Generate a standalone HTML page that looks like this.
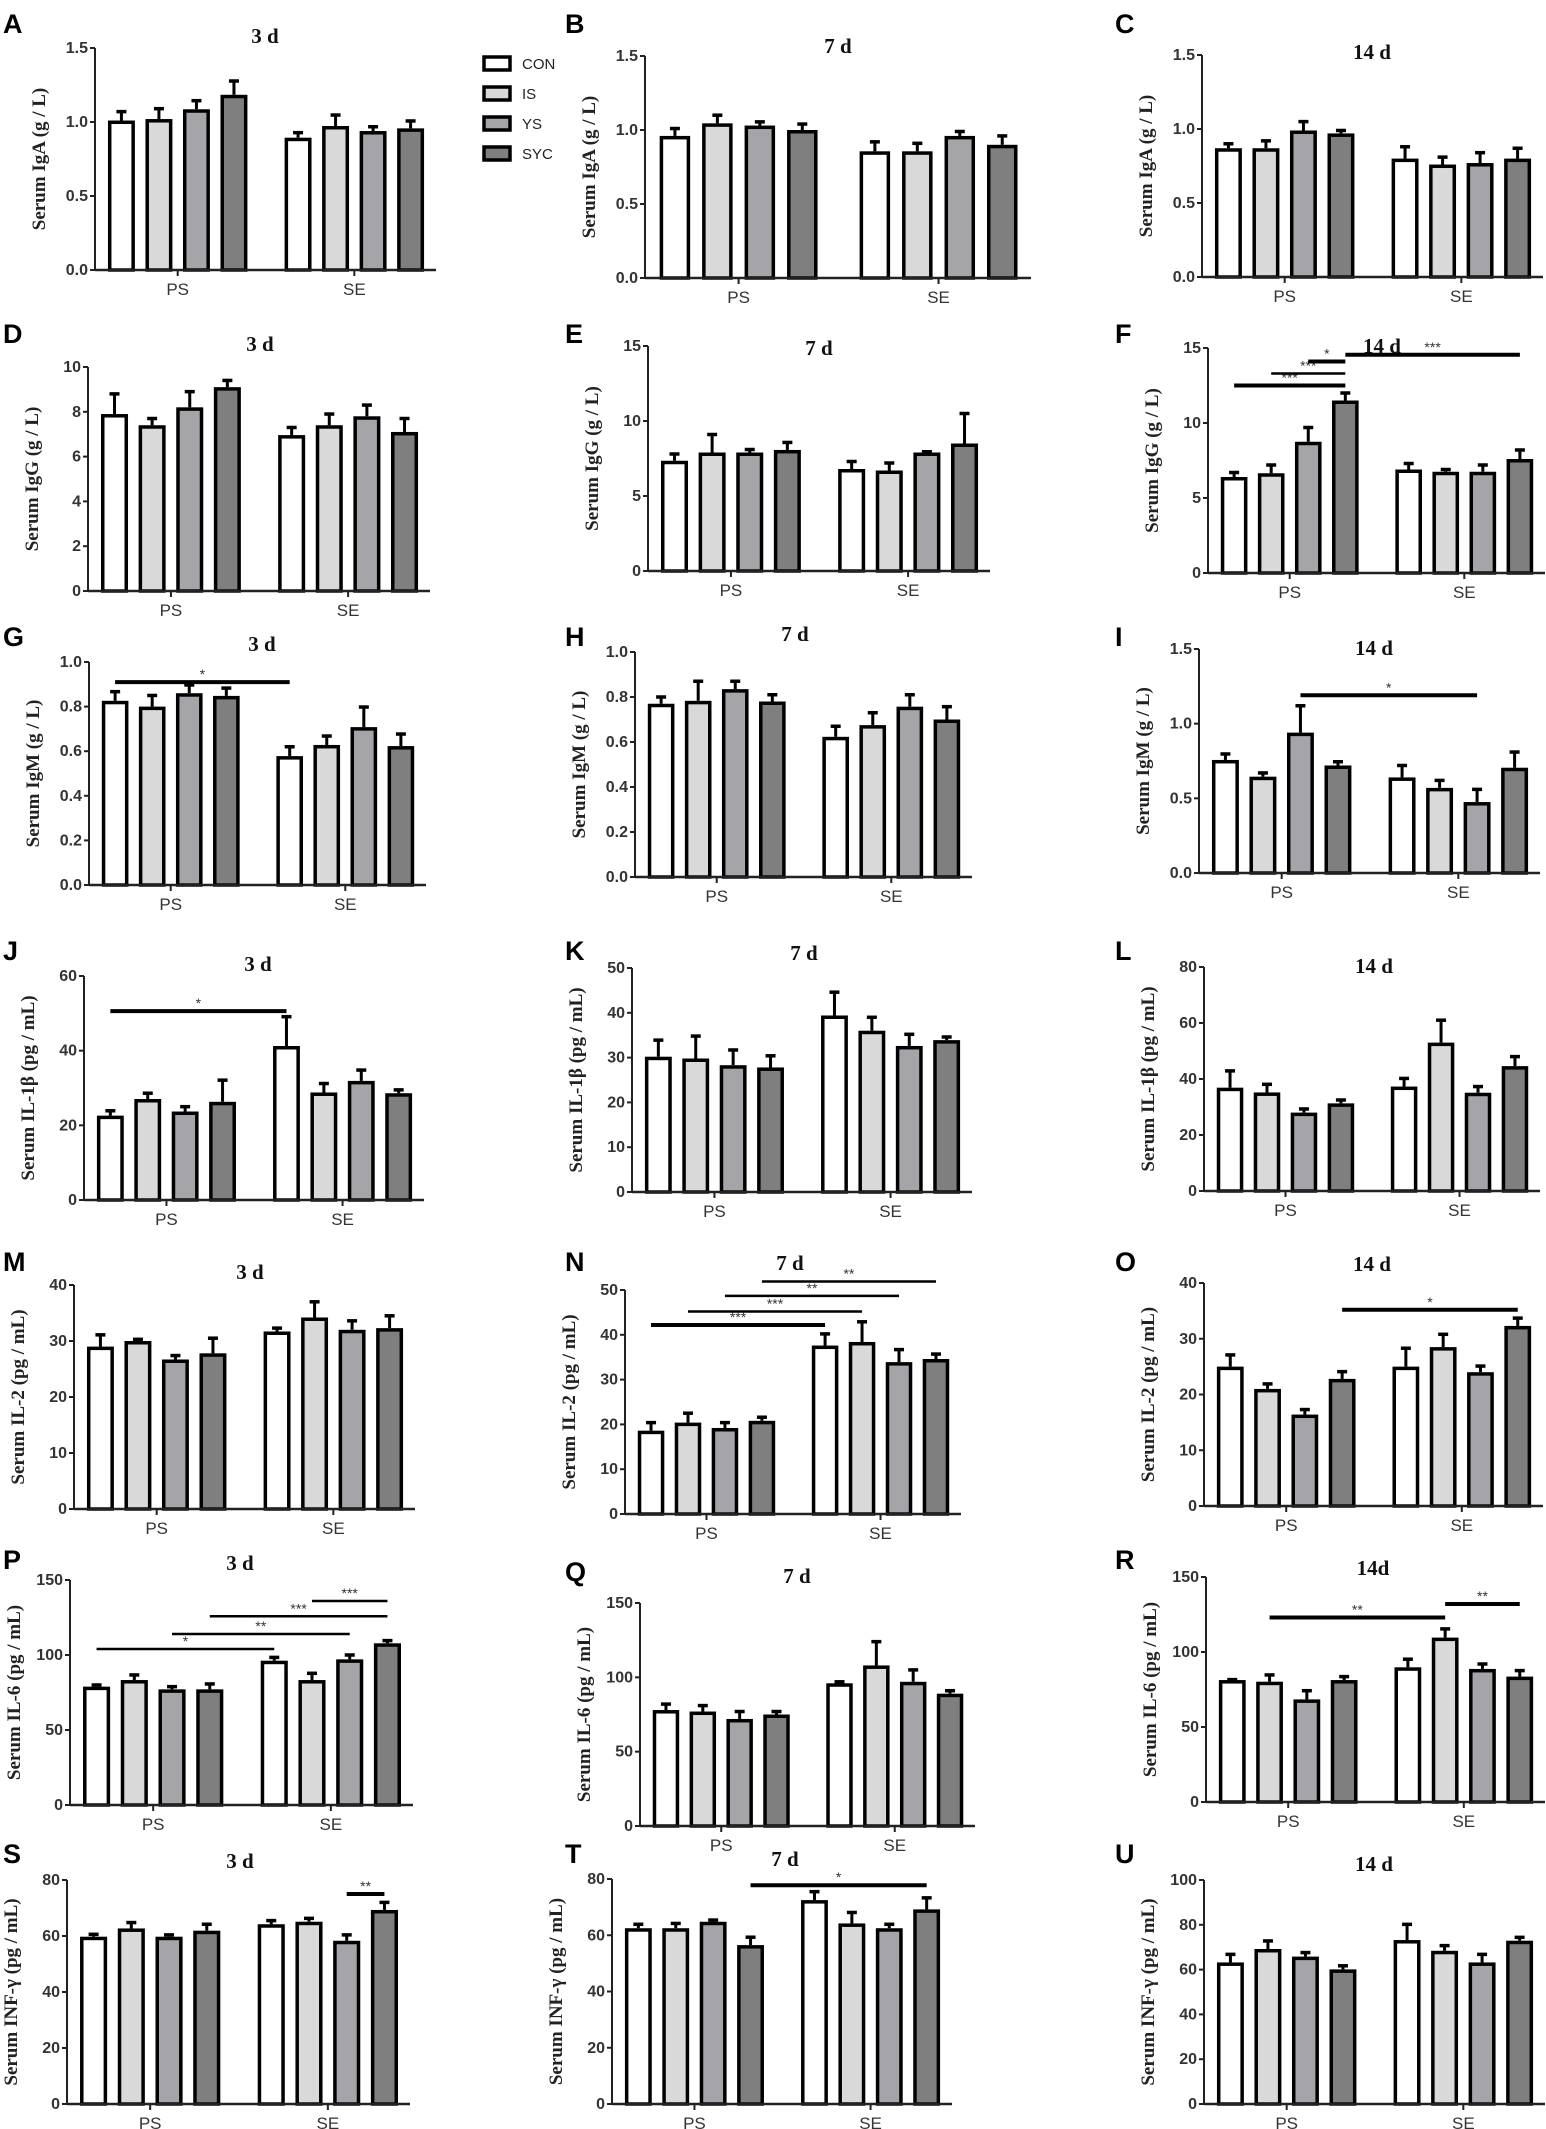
<!DOCTYPE html>
<html><head><meta charset="utf-8">
<style>
html,body{margin:0;padding:0;background:#fff;}
svg{display:block;}
</style></head>
<body>
<svg id="fig" width="1546" height="2129" viewBox="0 0 1546 2129" xmlns="http://www.w3.org/2000/svg"></svg>
<script>
const groups = ['PS','SE'];
const seriesNames = ['CON','IS','YS','SYC'];
const seriesFills = ['#ffffff','#d9d9d9','#a5a5a9','#7f7f7f'];

// values: PS CON, IS, YS, SYC, SE CON, IS, YS, SYC
const A_mean=[1.01,1.02,1.086,1.184,0.894,0.973,0.939,0.957];
const A_err =[0.06,0.07,0.058,0.093,0.034,0.074,0.029,0.05];
const B_mean=[0.96,1.045,1.03,1.0,0.856,0.856,0.96,0.90];
const B_err =[0.05,0.055,0.025,0.04,0.064,0.054,0.03,0.06];
const C_mean=[0.87,0.87,0.99,0.97,0.80,0.76,0.77,0.80];
const C_err =[0.03,0.05,0.06,0.02,0.08,0.05,0.07,0.07];
const D_mean=[7.9,7.4,8.2,9.1,6.96,7.4,7.8,7.1];
const D_err =[0.9,0.3,0.7,0.3,0.34,0.5,0.5,0.6];
const E_mean=[7.35,7.9,7.9,8.07,6.8,6.7,7.9,8.5];
const E_err =[0.45,1.2,0.2,0.5,0.5,0.5,0.05,2.0];
const F_mean=[6.4,6.65,8.75,11.5,6.9,6.75,6.75,7.6];
const F_err =[0.3,0.55,0.95,0.5,0.4,0.15,0.45,0.6];
const G_mean=[0.826,0.80,0.86,0.848,0.578,0.628,0.708,0.623];
const G_err =[0.041,0.05,0.037,0.035,0.042,0.04,0.09,0.054];
const H_mean=[0.77,0.783,0.835,0.78,0.623,0.675,0.757,0.70];
const H_err =[0.03,0.087,0.035,0.03,0.047,0.055,0.053,0.057];
const I_mean=[0.757,0.645,0.94,0.72,0.64,0.57,0.475,0.705];
const I_err =[0.04,0.025,0.18,0.025,0.08,0.05,0.085,0.105];
const J_mean=[22.6,27.05,23.7,26.3,41.25,28.8,31.9,28.6];
const J_err =[1.3,1.55,1.3,5.8,7.85,2.4,2.9,0.9];
const K_mean=[30.2,29.8,28.3,27.8,39.4,36,32.6,33.9];
const K_err =[3.7,5.0,3.4,2.6,5.2,3.0,2.6,0.7];
const L_mean=[36.9,35.2,28,31.3,37.3,53,35.1,44.6];
const L_err =[6.0,2.9,1.3,1.2,2.9,8.0,2.2,3.4];
const M_mean=[29.0,30.0,26.7,27.8,31.7,34.2,32,32.3];
const M_err =[2.1,0.3,0.7,2.7,0.6,2.8,1.6,2.2];
const N_mean=[18.6,20.4,19.2,20.8,37.6,38.4,33.9,34.6];
const N_err =[1.8,2.1,1.2,0.8,2.6,4.5,2.8,1.1];
const O_mean=[25.0,21.0,16.4,22.8,25.0,28.5,24.0,32.3];
const O_err =[2.1,0.9,0.9,1.3,3.3,2.3,1.1,1.4];
const P_mean=[78.9,83.3,77.1,77.1,96.2,83.3,97.1,107.8];
const P_err =[1.1,3.4,1.8,3.6,2.2,4.5,2.9,1.8];
const Q_mean=[78,77,72,75,96,108,97,89];
const Q_err =[4,4,5,2,1,16,8,2];
const R_mean=[81.3,80.2,68.4,81.3,89.8,109.6,88.7,83.6];
const R_err =[0.3,4.5,5.8,2.3,5.4,5.8,3.3,4.0];
const S_mean=[59.75,62.7,59.75,61.9,64.2,65.1,58.3,69.3];
const S_err =[0.85,2.1,0.65,2.3,1.3,1.2,2.1,2.7];
const T_mean=[62.5,62.5,64.8,56.5,72.5,64.2,62.5,69.2];
const T_err =[1.4,1.7,0.6,2.8,3.0,3.9,1.4,4.1];
const U_mean=[63.2,69.2,65.8,60.1,73.2,68.4,63.2,72.9];
const U_err =[3.6,3.6,1.8,1.6,7.0,2.3,3.6,1.5];

// y-axis tick values
const ticks_igA=[0,0.5,1.0,1.5];
const ticks_igG3=[0,2,4,6,8,10];
const ticks_igG15=[0,5,10,15];
const ticks_igM1=[0,0.2,0.4,0.6,0.8,1.0];
const ticks_igM15=[0,0.5,1.0,1.5];
const ticks_60=[0,20,40,60];
const ticks_50=[0,10,20,30,40,50];
const ticks_80by20=[0,20,40,60,80];
const ticks_40=[0,10,20,30,40];
const ticks_150=[0,50,100,150];
const ticks_100=[0,20,40,60,80,100];

// significance brackets: [fromBar, toBar, value, label, thick]
const F_sig=[[0,3,12.5,'***',1],[1,3,13.3,'***',0],[2,3,14.1,'*',1],[3,7,14.55,'***',1]];
const G_sig=[[0,4,0.91,'*',1]];
const I_sig=[[2,6,1.19,'*',1]];
const J_sig=[[0,4,50.6,'*',1]];
const N_sig=[[0,4,42.2,'***',1],[1,5,45.2,'***',0],[2,6,48.7,'**',0],[3,7,51.9,'**',0]];
const O_sig=[[3,7,35.2,'*',1]];
const P_sig=[[0,4,104,'*',0],[2,6,114,'**',0],[3,7,125.8,'***',0],[5,7,136,'***',0]];
const R_sig=[[1,5,123,'**',1],[5,7,132,'**',1]];
const S_sig=[[6,7,75,'**',1]];
const T_sig=[[3,7,77.8,'*',1]];

const panels=[
 {id:'A',lx:3,ly:24,x0:95,x1:436,y0:270,yTop:48,max:1.5,ticks:ticks_igA,dec:1,title:'3 d',tx:265,ty:36,ylab:'Serum IgA (g / L)',mean:A_mean,err:A_err,sig:[]},
 {id:'B',lx:565,ly:24,x0:645,x1:1031,y0:278,yTop:56,max:1.5,ticks:ticks_igA,dec:1,title:'7 d',tx:838,ty:46,ylab:'Serum IgA (g / L)',mean:B_mean,err:B_err,sig:[]},
 {id:'C',lx:1115,ly:24,x0:1202,x1:1543,y0:277,yTop:55,max:1.5,ticks:ticks_igA,dec:1,title:'14 d',tx:1372,ty:52,ylab:'Serum IgA (g / L)',mean:C_mean,err:C_err,sig:[]},
 {id:'D',lx:3,ly:334,x0:88,x1:430,y0:591,yTop:367,max:10,ticks:ticks_igG3,dec:0,title:'3 d',tx:260,ty:344,ylab:'Serum IgG (g / L)',mean:D_mean,err:D_err,sig:[]},
 {id:'E',lx:565,ly:334,x0:648,x1:990,y0:571,yTop:346,max:15,ticks:ticks_igG15,dec:0,title:'7 d',tx:819,ty:348,ylab:'Serum IgG (g / L)',mean:E_mean,err:E_err,sig:[]},
 {id:'F',lx:1115,ly:334,x0:1208,x1:1545,y0:573,yTop:348,max:15,ticks:ticks_igG15,dec:0,title:'14 d',tx:1382,ty:346,ylab:'Serum IgG (g / L)',mean:F_mean,err:F_err,sig:F_sig},
 {id:'G',lx:3,ly:637,x0:89,x1:426,y0:885,yTop:662,max:1.0,ticks:ticks_igM1,dec:1,title:'3 d',tx:262,ty:644,ylab:'Serum IgM (g / L)',mean:G_mean,err:G_err,sig:G_sig},
 {id:'H',lx:565,ly:637,x0:635,x1:972,y0:877,yTop:652,max:1.0,ticks:ticks_igM1,dec:1,title:'7 d',tx:795,ty:634,ylab:'Serum IgM (g / L)',mean:H_mean,err:H_err,sig:[]},
 {id:'I',lx:1115,ly:637,x0:1199,x1:1540,y0:873,yTop:649,max:1.5,ticks:ticks_igM15,dec:1,title:'14 d',tx:1374,ty:648,ylab:'Serum IgM (g / L)',mean:I_mean,err:I_err,sig:I_sig},
 {id:'J',lx:3,ly:951,x0:84,x1:424,y0:1200,yTop:976,max:60,ticks:ticks_60,dec:0,title:'3 d',tx:258,ty:964,ylab:'Serum IL-1β (pg / mL)',mean:J_mean,err:J_err,sig:J_sig},
 {id:'K',lx:565,ly:951,x0:632,x1:972,y0:1192,yTop:968,max:50,ticks:ticks_50,dec:0,title:'7 d',tx:804,ty:953,ylab:'Serum IL-1β (pg / mL)',mean:K_mean,err:K_err,sig:[]},
 {id:'L',lx:1115,ly:951,x0:1204,x1:1540,y0:1191,yTop:967,max:80,ticks:ticks_80by20,dec:0,title:'14 d',tx:1374,ty:966,ylab:'Serum IL-1β (pg / mL)',mean:L_mean,err:L_err,sig:[]},
 {id:'M',lx:3,ly:1262,x0:74,x1:415,y0:1509,yTop:1285,max:40,ticks:ticks_40,dec:0,title:'3 d',tx:250,ty:1272,ylab:'Serum IL-2 (pg / mL)',mean:M_mean,err:M_err,sig:[]},
 {id:'N',lx:565,ly:1262,x0:625,x1:961,y0:1514,yTop:1290,max:50,ticks:ticks_50,dec:0,title:'7 d',tx:790,ty:1263,ylab:'Serum IL-2 (pg / mL)',mean:N_mean,err:N_err,sig:N_sig},
 {id:'O',lx:1115,ly:1262,x0:1204,x1:1543,y0:1506,yTop:1283,max:40,ticks:ticks_40,dec:0,title:'14 d',tx:1372,ty:1264,ylab:'Serum IL-2 (pg / mL)',mean:O_mean,err:O_err,sig:O_sig},
 {id:'P',lx:3,ly:1560,x0:70,x1:413,y0:1805,yTop:1580,max:150,ticks:ticks_150,dec:0,title:'3 d',tx:240,ty:1563,ylab:'Serum IL-6 (pg / mL)',mean:P_mean,err:P_err,sig:P_sig},
 {id:'Q',lx:565,ly:1572,x0:640,x1:975,y0:1826,yTop:1603,max:150,ticks:ticks_150,dec:0,title:'7 d',tx:797,ty:1576,ylab:'Serum IL-6 (pg / mL)',mean:Q_mean,err:Q_err,sig:[]},
 {id:'R',lx:1115,ly:1560,x0:1206,x1:1545,y0:1802,yTop:1577,max:150,ticks:ticks_150,dec:0,title:'14d',tx:1373,ty:1568,ylab:'Serum IL-6 (pg / mL)',mean:R_mean,err:R_err,sig:R_sig},
 {id:'S',lx:3,ly:1854,x0:67,x1:410,y0:2104,yTop:1880,max:80,ticks:ticks_80by20,dec:0,title:'3 d',tx:240,ty:1861,ylab:'Serum INF-γ (pg / mL)',mean:S_mean,err:S_err,sig:S_sig},
 {id:'T',lx:565,ly:1854,x0:612,x1:952,y0:2104,yTop:1879,max:80,ticks:ticks_80by20,dec:0,title:'7 d',tx:785,ty:1859,ylab:'Serum INF-γ (pg / mL)',mean:T_mean,err:T_err,sig:T_sig},
 {id:'U',lx:1115,ly:1854,x0:1204,x1:1545,y0:2104,yTop:1880,max:100,ticks:ticks_100,dec:0,title:'14 d',tx:1374,ty:1864,ylab:'Serum INF-γ (pg / mL)',mean:U_mean,err:U_err,sig:[]}
];

const NS='http://www.w3.org/2000/svg';
const svg=document.getElementById('fig');
function mk(tag,attrs,parent){
  const e=document.createElementNS(NS,tag);
  for(const k in attrs) e.setAttribute(k,attrs[k]);
  (parent||svg).appendChild(e);
  return e;
}

// legend
const leg=mk('g',{});


seriesNames.forEach((s,i)=>{
  const y=57+i*30;
  const sw=mk('rect',{x:484,y:y,width:26,height:13,fill:seriesFills[i],stroke:'#000','stroke-width':3.5},leg);
  
  
  const t=mk('text',{x:522,y:y+12,'font-family':'Liberation Sans, sans-serif','font-size':15,fill:'#222'},leg);
  t.textContent=s;
  
  
});

panels.forEach(p=>{
  const g=mk('g',{});
  
  
  const W=p.x1-p.x0;
  const yS=v=>p.y0-v/p.max*(p.y0-p.yTop);
  const starts=[0.038,0.556], pitch=0.11, bw=0.079;
  const barX=i=>p.x0+W*(starts[i<4?0:1]+(i%4)*pitch);
  const barC=i=>barX(i)+W*bw/2;

  const L=mk('text',{x:p.lx,y:p.ly+9,'font-family':'Liberation Sans, sans-serif','font-weight':'bold','font-size':27,fill:'#000'},g);
  L.textContent=p.id;
  
  

  const T=mk('text',{x:p.tx,y:p.ty+7,'text-anchor':'middle','font-family':'Liberation Serif, serif','font-weight':'bold','font-size':21,fill:'#111'},g);
  T.textContent=p.title;
  
  

  const yc=(p.y0+p.yTop)/2, yx=p.x0-50;
  const YL=mk('text',{x:yx,y:yc,transform:`rotate(-90 ${yx} ${yc})`,'text-anchor':'middle','font-family':'Liberation Serif, serif','font-weight':'bold','font-size':19,fill:'#222'},g);
  YL.textContent=p.ylab;
  
  

  // bars
  p.mean.forEach((v,i)=>{
    const x=barX(i), w=W*bw, top=yS(v), eTop=yS(v+p.err[i]);
    const cx=x+w/2;
    const el=mk('line',{x1:cx,x2:cx,y1:top,y2:eTop,stroke:'#000','stroke-width':3},g);
    
    
    const cap=mk('line',{x1:cx-5,x2:cx+5,y1:eTop,y2:eTop,stroke:'#000','stroke-width':3.5},g);
    
    
    const r=mk('rect',{x:x+1.75,y:top+1.75,width:w-3.5,height:Math.max(0,p.y0-top-1.75),fill:seriesFills[i%4],stroke:'#000','stroke-width':3.5},g);
    
    
  });

  // axes
  const ya=mk('line',{x1:p.x0,x2:p.x0,y1:p.yTop,y2:p.y0,stroke:'#222','stroke-width':2},g);
  
  
  const xa=mk('line',{x1:p.x0,x2:p.x1,y1:p.y0,y2:p.y0,stroke:'#222','stroke-width':2.5},g);
  
  

  p.ticks.forEach(t=>{
    const y=yS(t);
    const tk=mk('line',{x1:p.x0-5,x2:p.x0,y1:y,y2:y,stroke:'#222','stroke-width':2},g);
    
    
    const tl=mk('text',{x:p.x0-7,y:y+5,'text-anchor':'end','font-family':'Liberation Sans, sans-serif','font-weight':'bold','font-size':16,fill:'#333'},g);
    tl.textContent=t.toFixed(p.dec);
    
    
  });

  groups.forEach((gn,gi)=>{
    const cx=p.x0+W*(starts[gi]+(3*pitch+bw)/2);
    const tk=mk('line',{x1:cx,x2:cx,y1:p.y0,y2:p.y0+6,stroke:'#222','stroke-width':2},g);
    
    
    const tl=mk('text',{x:cx,y:p.y0+25,'text-anchor':'middle','font-family':'Liberation Sans, sans-serif','font-size':17,fill:'#333'},g);
    tl.textContent=gn;
    
    
  });

  p.sig.forEach(s=>{
    const y=yS(s[2]);
    const ln=mk('line',{x1:barC(s[0]),x2:barC(s[1]),y1:y,y2:y,stroke:'#000','stroke-width':s[4]?4:2.5},g);
    
    
    const st=mk('text',{x:(barC(s[0])+barC(s[1]))/2,y:y-3,'text-anchor':'middle','font-family':'Liberation Sans, sans-serif','font-size':14,fill:'#333'},g);
    st.textContent=s[3];
    
    
  });
});
</script>
</body></html>
